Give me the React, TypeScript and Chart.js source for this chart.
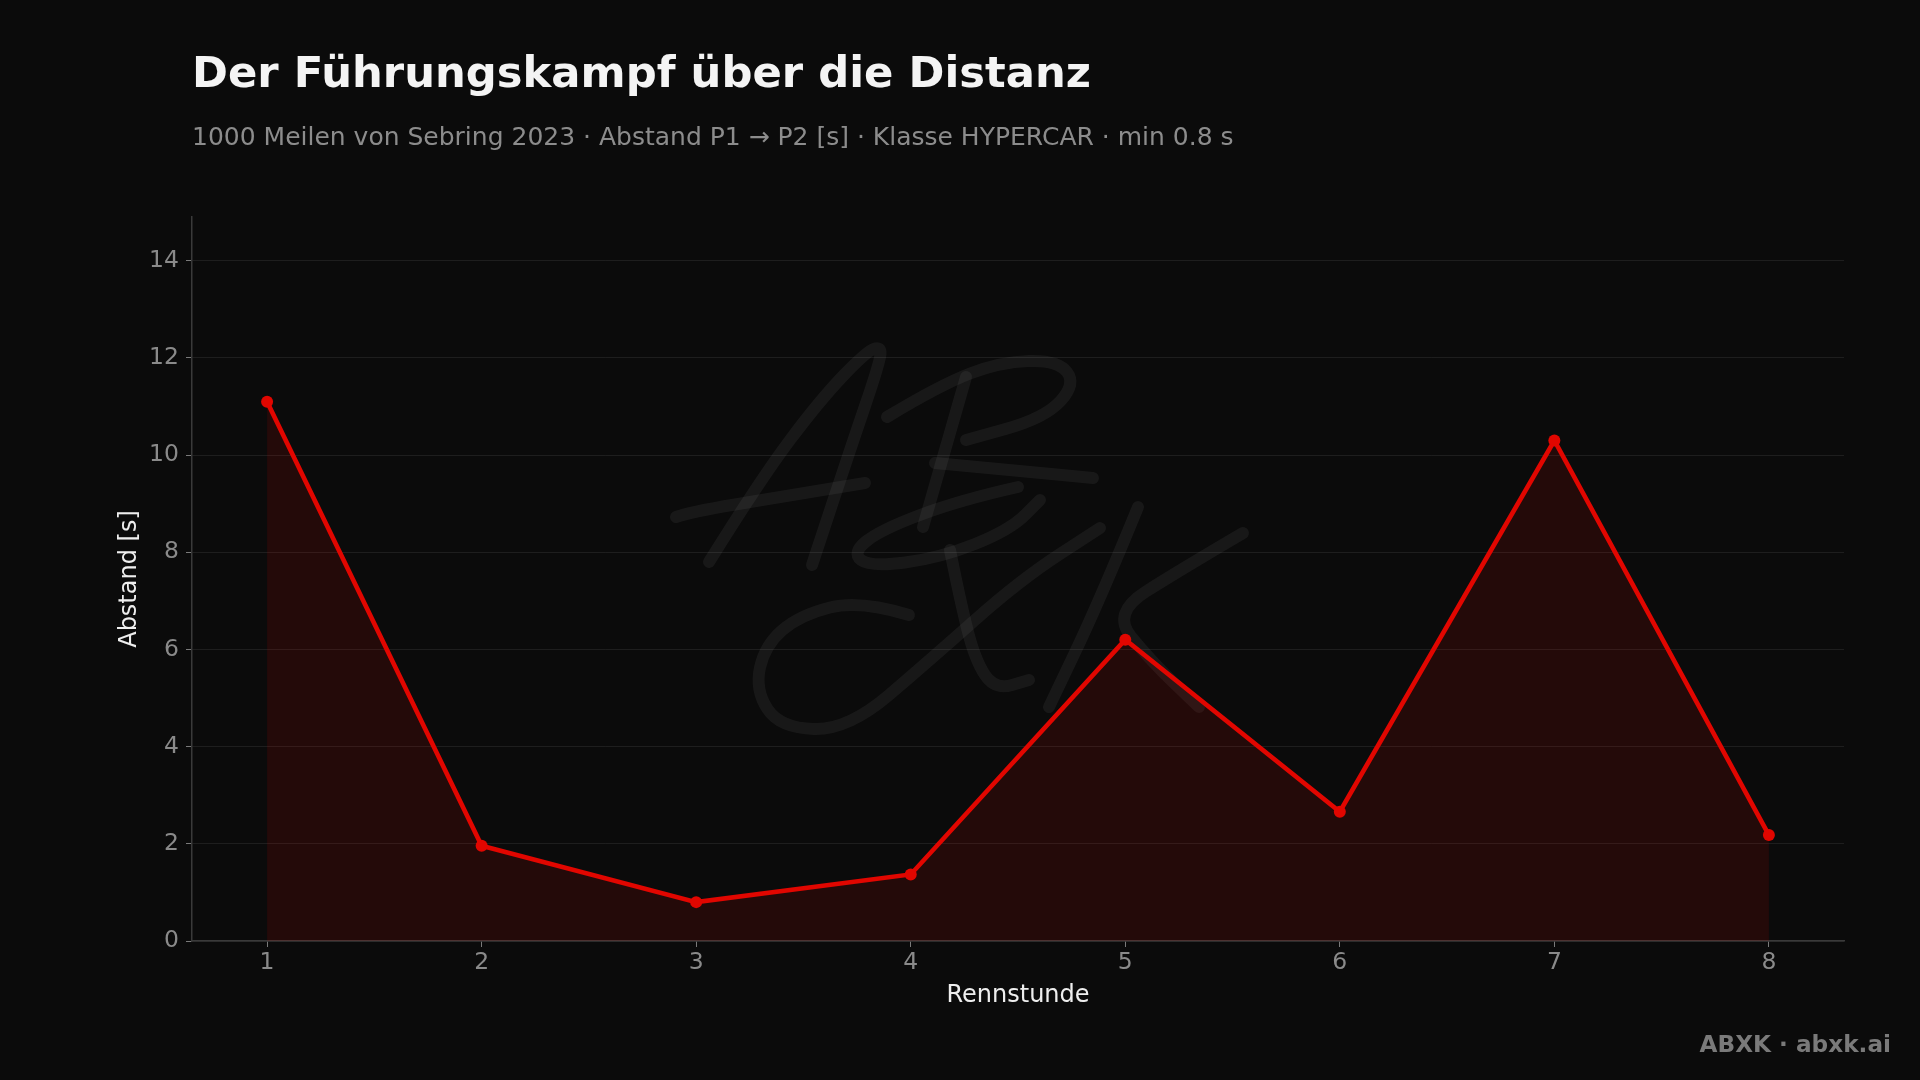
import React, { useEffect, useRef } from "react";
import { Chart, registerables } from "chart.js";

Chart.register(...registerables);

// ---- data ----
const HOURS = [1, 2, 3, 4, 5, 6, 7, 8];
const GAP_S = [11.1, 1.96, 0.8, 1.37, 6.2, 2.66, 10.3, 2.18];
const Y_TICKS = [0, 2, 4, 6, 8, 10, 12, 14];

const TITLE = "Der Führungskampf über die Distanz";
const SUBTITLE =
  "1000 Meilen von Sebring 2023 · Abstand P1 → P2 [s] · Klasse HYPERCAR · min 0.8 s";
const X_TITLE = "Rennstunde";
const Y_TITLE = "Abstand [s]";
const FOOTER = "ABXK · abxk.ai";

// ---- style ----
const BG = "#0b0b0b";
const RED = "#e10600";
const FONT = "'DejaVu Sans', sans-serif";

// decorative signature watermark strokes (canvas pixels)
const WATERMARK: number[][][] = [
  [[709, 562], [760, 480], [820, 400], [866, 352], [881, 346], [880, 362], [850, 450], [812, 565]],
  [[676, 517], [690, 512], [780, 497], [865, 483]],
  [[887, 417], [940, 385], [1000, 362], [1058, 360], [1076, 384], [1045, 418], [966, 440]],
  [[966, 377], [945, 450], [923, 527]],
  [[935, 463], [1010, 470], [1093, 478]],
  [[1018, 487], [960, 500], [880, 530], [852, 553], [870, 567], [940, 558], [1010, 530], [1040, 500]],
  [[909, 615], [860, 600], [800, 615], [765, 645], [755, 690], [780, 728], [848, 730], [930, 660], [1020, 580], [1100, 528]],
  [[950, 550], [960, 600], [975, 660], [995, 690], [1029, 680]],
  [[1138, 507], [1100, 600], [1049, 707]],
  [[1243, 533], [1180, 570], [1112, 613], [1150, 660], [1199, 707]],
];

function smoothStroke(ctx: CanvasRenderingContext2D, pts: number[][]) {
  ctx.beginPath();
  ctx.moveTo(pts[0][0], pts[0][1]);
  for (let i = 1; i < pts.length - 1; i++) {
    const mx = (pts[i][0] + pts[i + 1][0]) / 2;
    const my = (pts[i][1] + pts[i + 1][1]) / 2;
    ctx.quadraticCurveTo(pts[i][0], pts[i][1], mx, my);
  }
  const last = pts[pts.length - 1];
  ctx.lineTo(last[0], last[1]);
  ctx.stroke();
}

const decorPlugin = {
  id: "decor",
  beforeDraw(chart: any) {
    const ctx = chart.ctx as CanvasRenderingContext2D;
    ctx.save();
    ctx.fillStyle = BG;
    ctx.fillRect(0, 0, chart.width, chart.height);
    ctx.strokeStyle = "rgba(255,255,255,0.055)";
    ctx.lineWidth = 12;
    ctx.lineCap = "round";
    ctx.lineJoin = "round";
    WATERMARK.forEach((s) => smoothStroke(ctx, s));
    ctx.restore();
  },
  afterDraw(chart: any) {
    const ctx = chart.ctx as CanvasRenderingContext2D;
    const area = chart.chartArea;
    ctx.save();
    ctx.textAlign = "left";
    ctx.textBaseline = "alphabetic";
    ctx.fillStyle = "#f4f4f4";
    ctx.font = `bold 43.3px ${FONT}`;
    ctx.fillText(TITLE, 192, 87);
    ctx.fillStyle = "#8c8c8c";
    ctx.font = `25px ${FONT}`;
    ctx.fillText(SUBTITLE, 192, 145);

    ctx.fillStyle = "#eeeeee";
    ctx.font = `24px ${FONT}`;
    ctx.textAlign = "center";
    ctx.textBaseline = "middle";
    ctx.fillText(X_TITLE, (area.left + area.right) / 2, 996);
    ctx.save();
    ctx.translate(129.5, (area.top + area.bottom) / 2);
    ctx.rotate(-Math.PI / 2);
    ctx.fillText(Y_TITLE, 0, 0);
    ctx.restore();

    ctx.fillStyle = "#7a7a7a";
    ctx.font = `bold 23.2px ${FONT}`;
    ctx.textAlign = "right";
    ctx.textBaseline = "alphabetic";
    ctx.fillText(FOOTER, 1891, 1052);
    ctx.restore();
  },
};

export default function App() {
  const ref = useRef<HTMLCanvasElement | null>(null);

  useEffect(() => {
    document.body.style.margin = "0";
    document.body.style.background = BG;
    const canvas = ref.current;
    if (!canvas) return;
    const chart = new Chart(canvas, {
      type: "line",
      data: {
        datasets: [
          {
            data: HOURS.map((h, i) => ({ x: h, y: GAP_S[i] })),
            borderColor: RED,
            borderWidth: 4.6,
            pointRadius: 6,
            pointHoverRadius: 6,
            pointBackgroundColor: RED,
            pointBorderWidth: 0,
            fill: "origin",
            backgroundColor: "rgba(225,6,0,0.12)",
            tension: 0,
          },
        ],
      },
      options: {
        responsive: false,
        animation: false,
        layout: { padding: { left: 72, top: 217, right: 76, bottom: 39 } },
        plugins: {
          legend: { display: false },
          tooltip: { enabled: false },
          title: { display: false },
        },
        scales: {
          x: {
            type: "linear",
            min: 0.65,
            max: 8.35,
            afterBuildTicks: (s: any) => {
              s.ticks = HOURS.map((v) => ({ value: v }));
            },
            afterFit: (s: any) => {
              s.height = 100;
            },
            ticks: {
              color: "#8a8a8a",
              font: { family: FONT, size: 23.5 },
              padding: 2,
              callback: (v: any) => String(v),
            },
            grid: {
              drawOnChartArea: false,
              drawTicks: true,
              tickLength: 6,
              tickColor: "#7a7a7a",
            },
            border: { display: true, color: "#3a3a3a", width: 1.5 },
          },
          y: {
            type: "linear",
            min: 0,
            max: 14.9,
            afterBuildTicks: (s: any) => {
              s.ticks = Y_TICKS.map((v) => ({ value: v }));
            },
            afterFit: (s: any) => {
              s.width = 120;
            },
            ticks: {
              color: "#8a8a8a",
              font: { family: FONT, size: 23.5 },
              padding: 7,
              callback: (v: any) => String(v),
            },
            grid: {
              color: "rgba(255,255,255,0.08)",
              lineWidth: 1,
              drawTicks: true,
              tickLength: 6,
              tickColor: "#7a7a7a",
            },
            border: { display: true, color: "#3a3a3a", width: 1.5 },
          },
        },
      },
      plugins: [decorPlugin],
    });
    return () => chart.destroy();
  }, []);

  return (
    <div style={{ position: "absolute", left: 0, top: 0, width: 1920, height: 1080, background: BG }}>
      <canvas ref={ref} width={1920} height={1080} style={{ display: "block" }} />
    </div>
  );
}
